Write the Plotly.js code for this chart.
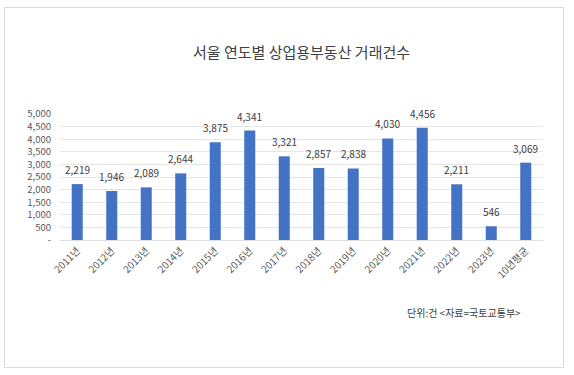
<!DOCTYPE html>
<html><head><meta charset="utf-8">
<script src="https://cdn.plot.ly/plotly-3.0.1.min.js"></script>
<style>
html,body{margin:0;padding:0;background:#fff;}
#wrap{position:relative;width:574px;height:375px;}
#frame{position:absolute;left:4px;top:7px;width:560px;height:361px;border:1px solid #d9d9d9;box-sizing:border-box;pointer-events:none;}
#chart{position:absolute;left:0;top:0;width:574px;height:375px;}
</style></head>
<body><div id="wrap"><div id="chart"></div><div id="frame"></div></div>
<script>
const categories = ['2011년','2012년','2013년','2014년','2015년','2016년','2017년','2018년','2019년','2020년','2021년','2022년','2023년','10년평균'];
const values = [2219,1946,2089,2644,3875,4341,3321,2857,2838,4030,4456,2211,546,3069];
const yTickVals = [0,500,1000,1500,2000,2500,3000,3500,4000,4500,5000];
const yTickText = ['-','500','1,000','1,500','2,000','2,500','3,000','3,500','4,000','4,500','5,000'];
const titleText = '서울 연도별 상업용부동산 거래건수';
const noteText = '단위:건 &lt;자료=국토교통부&gt;';

const FONT = '"Noto Sans CJK KR", "Malgun Gothic", sans-serif';
const trace = {
  type:'bar', x:categories, y:values,
  marker:{color:'#4472c4'},
  hoverinfo:'none'
};
const labelAnns = categories.map((c,i)=>({
  x:c, y:values[i], xref:'x', yref:'y', text:values[i].toLocaleString('en-US'),
  showarrow:false, yanchor:'bottom', yshift:5,
  font:{family:FONT,size:10,color:'#404040'}
}));
const layout = {
  width:574, height:375,
  margin:{l:60,r:31,t:114,b:135},
  paper_bgcolor:'rgba(0,0,0,0)', plot_bgcolor:'#fff',
  showlegend:false, bargap:0.68,
  font:{family:FONT,color:'#595959'},
  title:{text:titleText, x:0.5, xref:'paper', xanchor:'center', y:1-53/375, yanchor:'middle', yref:'container',
         font:{family:FONT,size:15,color:'#404040'}},
  xaxis:{tickangle:-45, tickfont:{family:FONT,size:10,color:'#595959'}, showline:true, linecolor:'#e0e0e0', linewidth:1, ticks:'', fixedrange:true},
  yaxis:{range:[0,5000], tickvals:yTickVals, ticktext:yTickText, tickfont:{family:FONT,size:9.5,color:'#595959'},
         gridcolor:'#e6e6e6', gridwidth:1, zeroline:false, showline:false, ticks:'', ticklabelstandoff:8},
  annotations:labelAnns.concat([{text:noteText, xref:'paper', yref:'paper', x:(523-60)/483, xanchor:'right', y:(239.5-312)/125.5, yanchor:'middle',
    showarrow:false, font:{family:FONT,size:10,color:'#404040'}}])
};
Plotly.newPlot('chart',[trace],layout,{staticPlot:true});
</script></body></html>
